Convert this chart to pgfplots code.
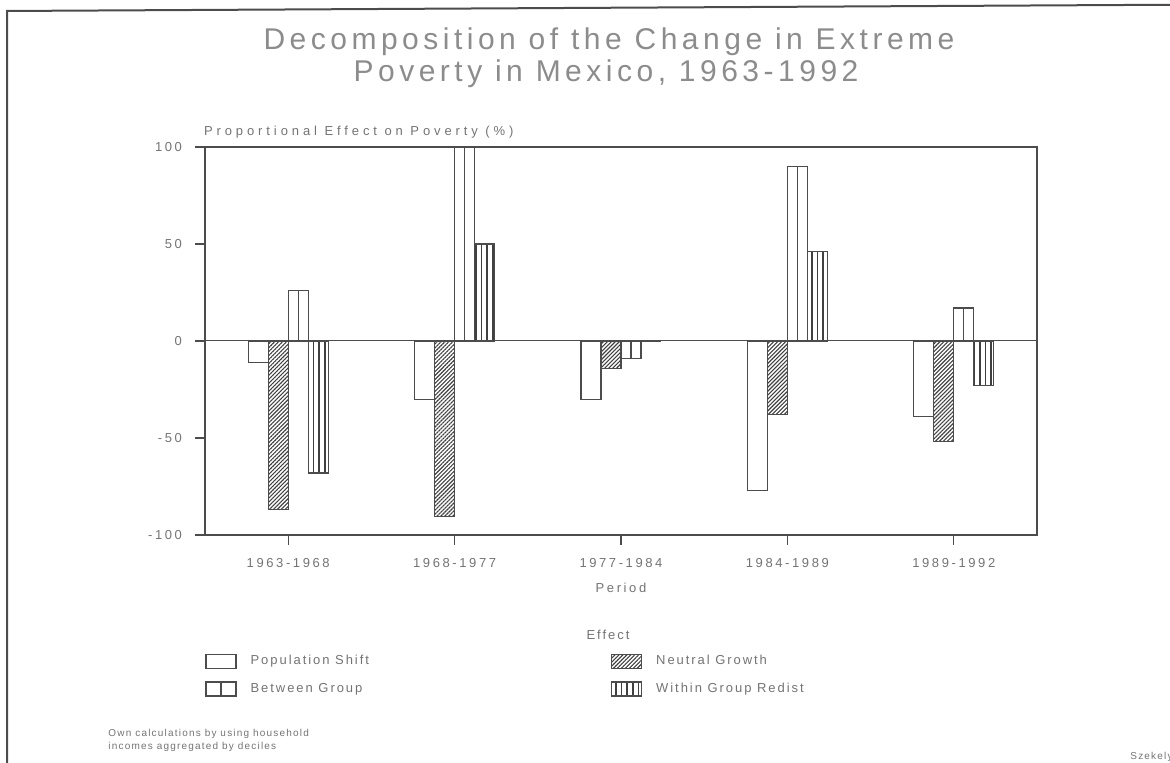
\documentclass[border=0pt]{standalone}
\usepackage{fontspec}
\setmainfont{Liberation Sans}
\usepackage{pgfplots}
\pgfplotsset{compat=1.18}
\usepackage{pgfplotstable}
\usetikzlibrary{patterns.meta}
\newcommand{\LS}[1]{\addfontfeatures{LetterSpace=#1}}
\definecolor{ink}{gray}{0.30}
\definecolor{hatch}{gray}{0.25}
\definecolor{txt}{gray}{0.45}
\definecolor{ttl}{gray}{0.55}

\pgfplotstableread{
x pop neut betw with
0 -11 -87 26 -68
1 -30 -90.5 100 50
2 -30 -14 -9 0
3 -77 -38 90 46
4 -39 -52 17 -23
}\data

\begin{document}
\begin{tikzpicture}[x=1pt,y=1pt]
\useasboundingbox (0,0) rectangle (585,-381.5);
\draw[black!70, line width=1pt] (3.5,-400) -- (3.5,-5.5) -- (600,-2.3);
\node[font=\fontsize{15}{18}\selectfont\LS{15}, text=ttl] at (304.5,-21) {Decomposition of the Change in Extreme};
\node[font=\fontsize{15}{18}\selectfont\LS{15}, text=ttl] at (303,-37) {Poverty in Mexico, 1963-1992};
\node[font=\fontsize{6.5}{8}\selectfont\LS{15}, text=txt] at (304,-317.5) {Effect};
\node[font=\fontsize{5}{6}\selectfont\LS{12}, text=txt, anchor=west, inner sep=0pt] at (54,-367) {Own calculations by using household};
\node[font=\fontsize{5}{6}\selectfont\LS{12}, text=txt, anchor=west, inner sep=0pt] at (54,-373.5) {incomes aggregated by deciles};
\node[font=\fontsize{5}{6}\selectfont\LS{12}, text=txt, anchor=west, inner sep=0pt] at (565,-378.5) {Szekely};

\begin{axis}[
  at={(144.1pt,-170.5pt)}, anchor=origin,
  scale only axis, width=416pt, height=194pt,
  ybar=0pt, bar width=0.12,
  xmin=-0.5, xmax=4.5, ymin=-100, ymax=100,
  xtick={0,1,2,3,4},
  xticklabels={1963-1968,1968-1977,1977-1984,1984-1989,1989-1992},
  ytick={-100,-50,0,50,100},
  extra y ticks={0}, extra y tick labels={},
  extra y tick style={grid=major, major grid style={ink, line width=0.5pt}},
  tick align=outside, xtick pos=left, ytick pos=left,
  major tick length=5pt,
  axis line style={ink, line width=0.6pt},
  tick style={ink, line width=0.6pt},
  /pgf/number format/assume math mode=true,
  ticklabel style={font=\fontsize{6.5}{8}\selectfont\LS{20}, text=txt},
  yticklabel style={xshift=-3pt},
  xticklabel style={yshift=-3pt},
  xlabel={Period},
  every axis x label/.style={at={(axis description cs:0.5,0)}, anchor=center, yshift=-26.5pt, font=\fontsize{6.5}{8}\selectfont\LS{20}, text=txt},
  ylabel={Proportional Effect on Poverty (\%)},
  every axis y label/.style={at={(axis description cs:0,1)}, anchor=south west, yshift=1pt, xshift=-4pt, font=\fontsize{6.5}{8}\selectfont\LS{30}, text=txt},
  legend columns=2,
  legend cell align=left,
  legend style={at={(axis description cs:0,0)}, anchor=north west, yshift=-56pt, xshift=-3pt,
    draw=none, fill=none, font=\fontsize{6.5}{8}\selectfont\LS{15}, text=txt,
    row sep=3.5pt,
    /tikz/every odd column/.append style={column sep=5pt},
    /tikz/every even column/.append style={column sep=119pt}},
  clip=true,
]
\addplot[draw=ink, fill=white, line width=0.6pt, bar shift=-0.18,
  legend image code/.code={\draw[ink, fill=white, line width=0.6pt] (0pt,-3.5pt) rectangle (15pt,3.5pt);}]
  table[x=x, y=pop]{\data};
\addlegendentry{Population Shift}
\addplot[draw=ink, line width=0.6pt, bar shift=-0.06,
  pattern={Lines[angle=45, distance=1.4pt, line width=0.55pt]}, pattern color=hatch,
  legend image code/.code={\draw[ink, line width=0.6pt, pattern={Lines[angle=45, distance=1.4pt, line width=0.55pt]}, pattern color=hatch] (0pt,-3.5pt) rectangle (15pt,3.5pt);}]
  table[x=x, y=neut]{\data};
\addlegendentry{Neutral Growth}
\addplot[draw=ink, fill=white, line width=0.6pt, bar shift=0.06,
  legend image code/.code={\draw[ink, fill=white, line width=0.6pt] (0pt,-3.5pt) rectangle (15pt,3.5pt); \draw[ink, line width=0.6pt] (7.5pt,-3.5pt) -- (7.5pt,3.5pt);}]
  table[x=x, y=betw]{\data};
\addlegendentry{Between Group}
\addplot[draw=ink, line width=0.6pt, bar shift=0.18,
  pattern={Lines[angle=90, distance=2.8pt, line width=0.8pt]}, pattern color=hatch,
  legend image code/.code={\draw[ink, line width=0.6pt, pattern={Lines[angle=90, distance=2.8pt, line width=0.8pt]}, pattern color=hatch] (0pt,-3.5pt) rectangle (15pt,3.5pt);}]
  table[x=x, y=with]{\data};
\addlegendentry{Within Group Redist}
\addplot[ycomb, draw=ink, line width=0.6pt, mark=none, forget plot]
  table[x expr=\thisrow{x}+0.06, y=betw]{\data};
\end{axis}
\end{tikzpicture}
\end{document}
